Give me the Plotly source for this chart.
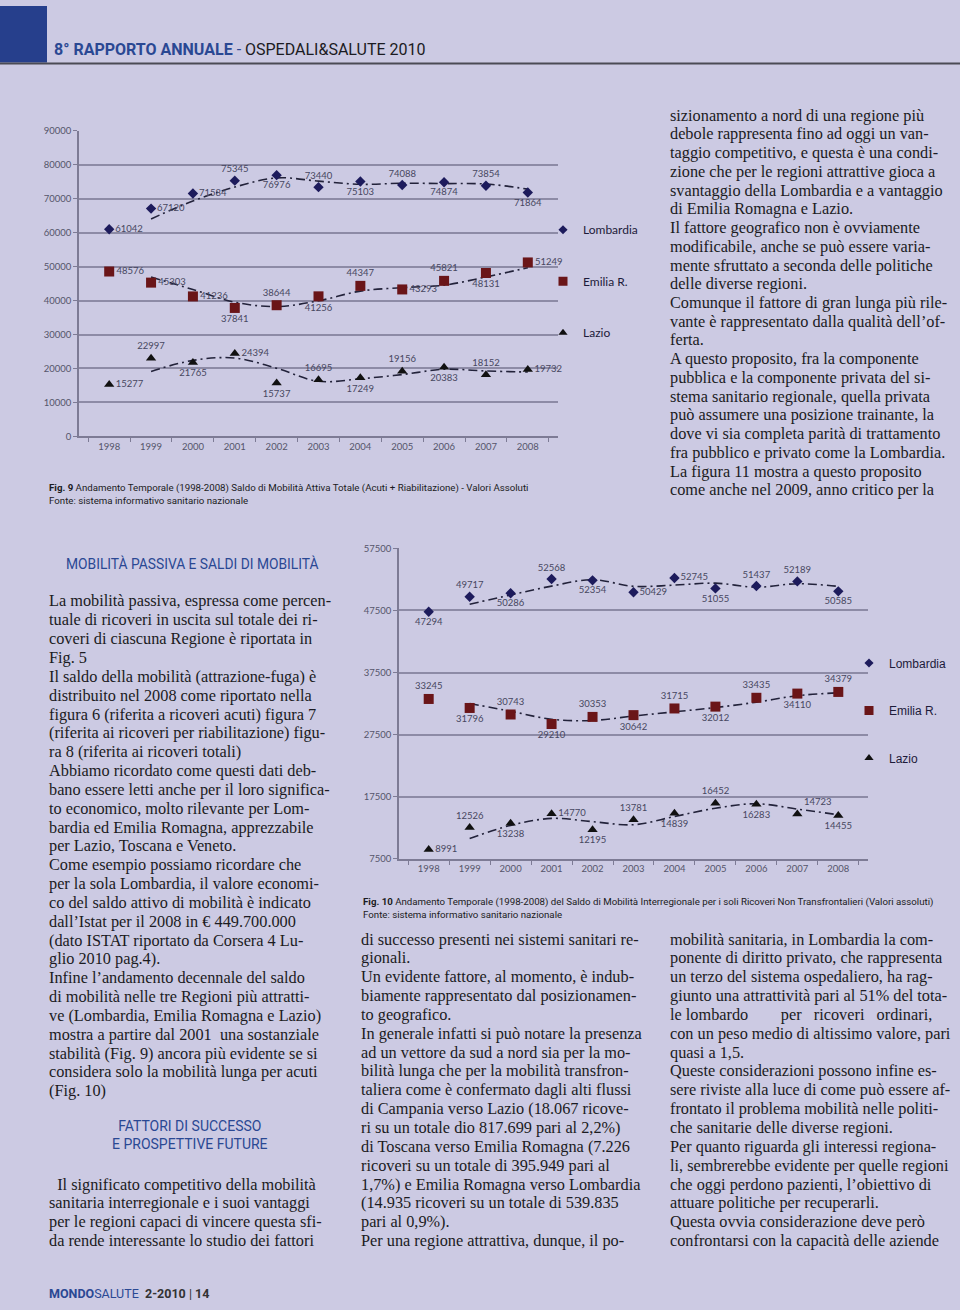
import plotly.graph_objects as go

# ---- data -------------------------------------------------------------
years = ["1998", "1999", "2000", "2001", "2002", "2003",
         "2004", "2005", "2006", "2007", "2008"]
regions = ["Lombardia", "Emilia R.", "Lazio"]

# Fig. 9 - saldo di mobilita' attiva totale (acuti + riabilitazione)
lomb_tot = [61042, 67120, 71584, 75345, 76976, 73440, 75103, 74088, 74874, 73854, 71864]
emil_tot = [48576, 45303, 41236, 37841, 38644, 41256, 44347, 43293, 45821, 48131, 51249]
lazio_tot = [15277, 22997, 21765, 24394, 15737, 16695, 17249, 19156, 20383, 18152, 19732]

# Fig. 10 - saldo interregionale, soli ricoveri non transfrontalieri
lomb_nt = [47294, 49717, 50286, 52568, 52354, 50429, 52745, 51055, 51437, 52189, 50585]
emil_nt = [33245, 31796, 30743, 29210, 30353, 30642, 31715, 32012, 33435, 34110, 34379]
lazio_nt = [8991, 12526, 13238, 14770, 12195, 13781, 14839, 16452, 16283, 14723, 14455]

fig9_ticks = [0, 10000, 20000, 30000, 40000, 50000, 60000, 70000, 80000, 90000]
fig10_ticks = [7500, 17500, 27500, 37500, 47500, 57500]

# ---- styles -------------------------------------------------------------
BG = "#cccae3"
GRID = "#8d8ba6"
R, T, B, M = "middle right", "top center", "bottom center", "top right"
pos9 = [
    [R, R, R, T, B, T, B, T, B, T, B],
    [R, R, R, B, T, B, T, R, T, B, R],
    [R, T, B, R, B, T, B, T, B, T, R],
]
pos10 = [
    [B, T, B, T, B, R, R, B, T, T, B],
    [T, B, T, B, T, B, T, B, T, B, T],
    [R, T, B, R, B, T, B, T, B, M, B],
]
symbols = ["diamond", "square", "triangle-up"]
sizes = [8, 10, 9]
colors = ["#1d1b5c", "#6a1518", "#111111"]

W, H = 960, 1310


def px(x):
    return x / W


def py(y):
    return 1 - y / H


fig = go.Figure()


def add_series(values, name, i, xa, ya, positions, legend):
    # moving average (2 periods) trend line, like the Excel trendline
    ma = [(a + b) / 2 for a, b in zip(values[:-1], values[1:])]
    fig.add_trace(go.Scatter(
        x=years[1:], y=ma, mode="lines", xaxis=xa, yaxis=ya,
        line=dict(color="#22223a", width=1.6, dash="9px,4px,2px,4px", shape="spline"),
        showlegend=False, hoverinfo="skip"))
    fig.add_trace(go.Scatter(
        x=years, y=values, mode="markers+text", xaxis=xa, yaxis=ya,
        text=[str(v) for v in values], textposition=positions,
        textfont=dict(family="Lato", size=9.5, color="#474760"),
        marker=dict(symbol=symbols[i], size=sizes[i], color=colors[i]),
        cliponaxis=False, name=name, showlegend=False))
    # legend entry only
    fig.add_trace(go.Scatter(
        x=[None], y=[None], mode="markers", xaxis=xa, yaxis=ya,
        marker=dict(symbol=symbols[i], size=sizes[i] - 1, color=colors[i]),
        name=name, legend=legend, legendgroup=legend + name))


for i, vals in enumerate([lomb_tot, emil_tot, lazio_tot]):
    add_series(vals, regions[i], i, "x", "y", pos9[i], "legend")
for i, vals in enumerate([lomb_nt, emil_nt, lazio_nt]):
    add_series(vals, regions[i], i, "x2", "y2", pos10[i], "legend2")

xcommon = dict(type="category", categoryorder="array", categoryarray=years,
               showgrid=False, showline=True, linecolor="#7d7b95", linewidth=1.5,
               ticks="outside", tickson="boundaries", ticklen=4, tickcolor="#7d7b95",
               tickfont=dict(family="Lato", size=9.5, color="#55556a"), fixedrange=True)
ycommon = dict(showgrid=True, gridcolor=GRID, gridwidth=1.5, showline=True,
               linecolor="#7d7b95", linewidth=1.5, ticks="outside", ticklen=4,
               tickcolor="#7d7b95", zeroline=False, tickformat="d",
               tickfont=dict(family="Lato", size=9.5, color="#55556a"))

fig.update_layout(
    width=W, height=H, margin=dict(l=0, r=0, t=0, b=0),
    paper_bgcolor=BG, plot_bgcolor=BG,
    xaxis=dict(xcommon, domain=[px(79), px(558)], anchor="y"),
    yaxis=dict(ycommon, domain=[py(434), py(126)], anchor="x",
               range=[0, 90000], tickvals=fig9_ticks),
    xaxis2=dict(xcommon, domain=[px(399), px(868)], anchor="y2"),
    yaxis2=dict(ycommon, domain=[py(860), py(547)], anchor="x2",
                range=[7500, 57500], tickvals=fig10_ticks),
    legend=dict(x=px(543), y=py(211), xanchor="left", yanchor="top",
                bgcolor="rgba(0,0,0,0)", tracegroupgap=32.5,
                font=dict(family="Lato", size=12, color="#1d1b3a")),
    legend2=dict(x=px(849), y=py(648), xanchor="left", yanchor="top",
                 bgcolor="rgba(0,0,0,0)", tracegroupgap=28.5,
                 font=dict(family="Liberation Sans", size=12, color="#1d1b3a")),
    showlegend=True,
)

# ---- page furniture -------------------------------------------------------
BLUE = "#2a4893"
fig.add_shape(type="rect", xref="paper", yref="paper", x0=0, x1=px(47),
              y0=py(57), y1=1, fillcolor="#263f8c", line_width=0, layer="below")
fig.add_shape(type="line", xref="paper", yref="paper", x0=0, x1=1,
              y0=py(58), y1=py(58), line=dict(color="#4b4b55", width=2))

SANS = "Roboto"
SERIF = "Liberation Serif"
TXT = "#1b1b22"


def note(x, y, text, size, family=SERIF, color=TXT, xanchor="left",
         yanchor="top", align="left"):
    fig.add_annotation(xref="paper", yref="paper", x=px(x), y=py(y),
                       text=text, showarrow=False, xanchor=xanchor,
                       yanchor=yanchor, align=align,
                       font=dict(family=family, size=size, color=color))


note(52, 44, "<b>8° RAPPORTO ANNUALE</b> - "
     "<span style='color:#1b1b22'>OSPEDALI&amp;SALUTE 2010</span>",
     16, family=SANS, color=BLUE, yanchor="middle")

note(47, 478, "<b>Fig. 9</b> Andamento Temporale (1998-2008) Saldo di Mobilità "
     "Attiva Totale (Acuti + Riabilitazione) - Valori Assoluti<br>"
     "Fonte: sistema informativo sanitario nazionale", 9.7, family=SANS)
note(361, 896, "<b>Fig. 10</b> Andamento Temporale (1998-2008) del Saldo di "
     "Mobilità Interregionale per i soli Ricoveri Non Transfrontalieri "
     "(Valori assoluti)<br>Fonte: sistema informativo sanitario nazionale",
     9.7, family=SANS)

right_top = [
    "sizionamento a nord di una regione più",
    "debole rappresenta fino ad oggi un van-",
    "taggio competitivo, e questa è una condi-",
    "zione che per le regioni attrattive gioca a",
    "svantaggio della Lombardia e a vantaggio",
    "di Emilia Romagna e Lazio.",
    "Il fattore geografico non è ovviamente",
    "modificabile, anche se può essere varia-",
    "mente sfruttato a seconda delle politiche",
    "delle diverse regioni.",
    "Comunque il fattore di gran lunga più rile-",
    "vante è rappresentato dalla qualità dell’of-",
    "ferta.",
    "A questo proposito, fra la componente",
    "pubblica e la componente privata del si-",
    "stema sanitario regionale, quella privata",
    "può assumere una posizione trainante, la",
    "dove vi sia completa parità di trattamento",
    "fra pubblico e privato come la Lombardia.",
    "La figura 11 mostra a questo proposito",
    "come anche nel 2009, anno critico per la",
]
left_col = [
    "La mobilità passiva, espressa come percen-",
    "tuale di ricoveri in uscita sul totale dei ri-",
    "coveri di ciascuna Regione è riportata in",
    "Fig. 5",
    "Il saldo della mobilità (attrazione-fuga) è",
    "distribuito nel 2008 come riportato nella",
    "figura 6 (riferita a ricoveri acuti) figura 7",
    "(riferita ai ricoveri per riabilitazione) figu-",
    "ra 8 (riferita ai ricoveri totali)",
    "Abbiamo ricordato come questi dati deb-",
    "bano essere letti anche per il loro significa-",
    "to economico, molto rilevante per Lom-",
    "bardia ed Emilia Romagna, apprezzabile",
    "per Lazio, Toscana e Veneto.",
    "Come esempio possiamo ricordare che",
    "per la sola Lombardia, il valore economi-",
    "co del saldo attivo di mobilità è indicato",
    "dall’Istat per il 2008 in € 449.700.000",
    "(dato ISTAT riportato da Corsera 4 Lu-",
    "glio 2010 pag.4).",
    "Infine l’andamento decennale del saldo",
    "di mobilità nelle tre Regioni più attratti-",
    "ve (Lombardia, Emilia Romagna e Lazio)",
    "mostra a partire dal 2001  una sostanziale",
    "stabilità (Fig. 9) ancora più evidente se si",
    "considera solo la mobilità lunga per acuti",
    "(Fig. 10)",
]
left_end = [
    "\u00a0\u00a0Il significato competitivo della mobilità",
    "sanitaria interregionale e i suoi vantaggi",
    "per le regioni capaci di vincere questa sfi-",
    "da rende interessante lo studio dei fattori",
]
mid_col = [
    "di successo presenti nei sistemi sanitari re-",
    "gionali.",
    "Un evidente fattore, al momento, è indub-",
    "biamente rappresentato dal posizionamen-",
    "to geografico.",
    "In generale infatti si può notare la presenza",
    "ad un vettore da sud a nord sia per la mo-",
    "bilità lunga che per la mobilità transfron-",
    "taliera come è confermato dagli alti flussi",
    "di Campania verso Lazio (18.067 ricove-",
    "ri su un totale dio 817.699 pari al 2,2%)",
    "di Toscana verso Emilia Romagna (7.226",
    "ricoveri su un totale di 395.949 pari al",
    "1,7%) e Emilia Romagna verso Lombardia",
    "(14.935 ricoveri su un totale di 539.835",
    "pari al 0,9%).",
    "Per una regione attrattiva, dunque, il po-",
]
right_col = [
    "mobilità sanitaria, in Lombardia la com-",
    "ponente di diritto privato, che rappresenta",
    "un terzo del sistema ospedaliero, ha rag-",
    "giunto una attrattività pari al 51% del tota-",
    "le lombardo        per   ricoveri   ordinari,",
    "con un peso medio di altissimo valore, pari",
    "quasi a 1,5.",
    "Queste considerazioni possono infine es-",
    "sere riviste alla luce di come può essere af-",
    "frontato il problema mobilità nelle politi-",
    "che sanitarie delle diverse regioni.",
    "Per quanto riguarda gli interessi regiona-",
    "li, sembrerebbe evidente per quelle regioni",
    "che oggi perdono pazienti, l’obiettivo di",
    "attuare politiche per recuperarli.",
    "Questa ovvia considerazione deve però",
    "confrontarsi con la capacità delle aziende",
]

BODY = 16.3


def column(lines, x, y0, step=19.0):
    for k, line in enumerate(lines):
        note(x, y0 + k * step, line.replace("  ", "\u00a0 "), BODY,
             yanchor="middle")


column(right_top, 668, 110, 18.9)
column(left_col, 47, 600)
column(left_end, 47, 1188)
column(mid_col, 359, 941)
column(right_col, 668, 941)

note(64, 562, "MOBILITÀ PASSIVA E SALDI DI MOBILITÀ", 13.8, family=SANS,
     color=BLUE, yanchor="middle")
note(190, 1139, "FATTORI DI SUCCESSO<br>E PROSPETTIVE FUTURE", 14, family=SANS,
     color=BLUE, xanchor="center", yanchor="middle", align="center")

note(47, 1298, "<b>MONDO</b>SALUTE  <span style='color:#333'><b>2-2010</b> | "
     "<b>14</b></span>", 12.5, family=SANS, color=BLUE, yanchor="middle")

fig.write_html("out.html", config={"displayModeBar": False},
               post_script="document.body.style.margin='0';"
                           "document.body.style.overflow='hidden';")
